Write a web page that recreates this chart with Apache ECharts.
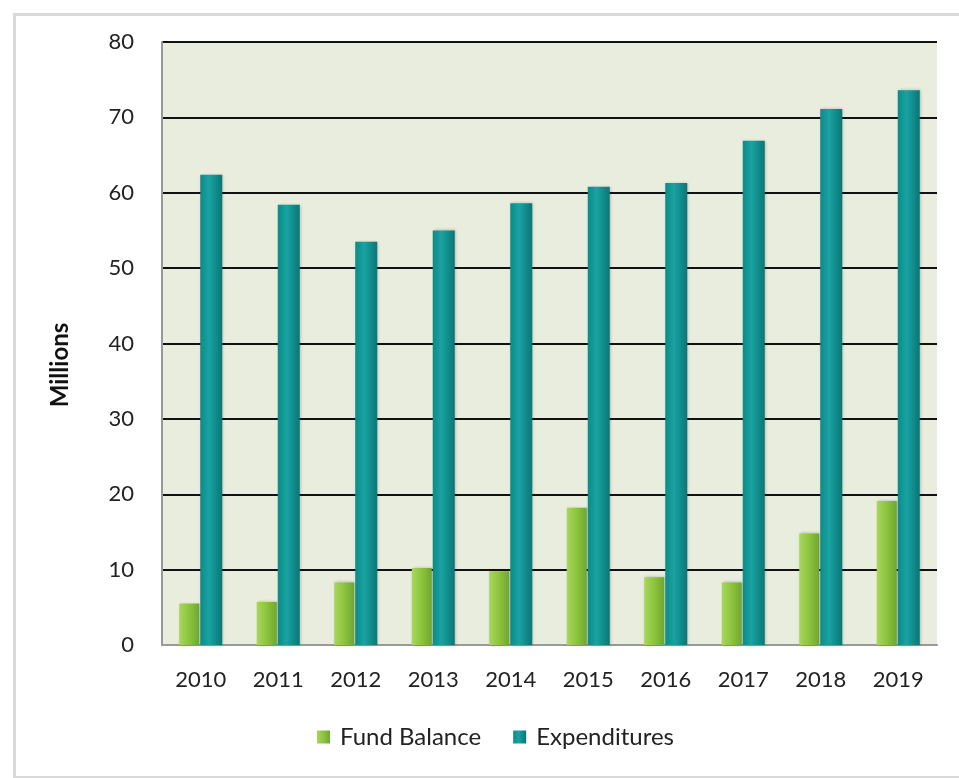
<!DOCTYPE html>
<html>
<head>
<meta charset="utf-8">
<script src="https://cdn.jsdelivr.net/npm/echarts@6/dist/echarts.min.js"></script>
<style>
html,body{margin:0;padding:0;background:#fff;}
#chart{width:959px;height:778px;}
</style>
</head>
<body>
<div id="chart"></div>
<script>
const categories = ['2010','2011','2012','2013','2014','2015','2016','2017','2018','2019'];
const fundBalance = [5.5, 5.7, 8.3, 10.2, 9.8, 18.2, 9.0, 8.3, 14.8, 19.1];
const expenditures = [62.4, 58.4, 53.5, 55.0, 58.6, 60.8, 61.3, 66.9, 71.1, 73.6];
const yTicks = [0, 10, 20, 30, 40, 50, 60, 70, 80];
const yTitle = 'Millions';

const FONT = 'Lato, "Open Sans", sans-serif';
const chart = echarts.init(document.getElementById('chart'));
chart.setOption({
  animation: false,
  backgroundColor: '#ffffff',
  graphic: [{
    type: 'rect', left: 12, top: 12, z: -10,
    shape: { width: 1000, height: 763 },
    style: { fill: 'none', stroke: '#d9d9d9', lineWidth: 3 }
  }, {
    type: 'text', x: 48, y: 365, rotation: Math.PI / 2,
    style: { text: yTitle, font: 'bold 24px Lato, sans-serif', fill: '#111', align: 'center', verticalAlign: 'top' }
  }],
  grid: { left: 162, right: 22, top: 42, bottom: 133, show: true, backgroundColor: '#e9eddd', borderWidth: 0 },
  legend: {
    bottom: 24, left: 312, itemWidth: 13, itemHeight: 13, itemGap: 32,
    icon: 'rect',
    textStyle: { fontFamily: FONT, fontSize: 24, color: '#222', padding: [0, 0, 0, 5] },
    data: ['Fund Balance', 'Expenditures']
  },
  xAxis: {
    type: 'category', data: categories,
    axisLine: { show: true, lineStyle: { color: '#999', width: 2 } },
    axisTick: { show: false },
    axisLabel: { fontFamily: FONT, fontSize: 22, color: '#222', margin: 24 }
  },
  yAxis: {
    type: 'value', min: yTicks[0], max: yTicks[yTicks.length - 1], interval: 10,
    axisLine: { show: true, lineStyle: { color: '#999', width: 2 } },
    axisTick: { show: false },
    axisLabel: { fontFamily: FONT, fontSize: 22, color: '#222', margin: 28 },
    splitLine: { show: true, lineStyle: { color: '#111', width: 2 } }
  },
  series: [
    {
      name: 'Fund Balance', type: 'bar', data: fundBalance, barWidth: 20, barGap: '5%',
      itemStyle: {
        color: new echarts.graphic.LinearGradient(0, 0, 1, 0, [
          { offset: 0, color: '#a8d65c' }, { offset: 0.5, color: '#8cc43e' }, { offset: 1, color: '#6fa630' }
        ]),
        shadowColor: 'rgba(0,0,0,0.25)', shadowBlur: 3, shadowOffsetX: 1
      }
    },
    {
      name: 'Expenditures', type: 'bar', data: expenditures, barWidth: 22,
      itemStyle: {
        color: new echarts.graphic.LinearGradient(0, 0, 1, 0, [
          { offset: 0, color: '#0d8a89' }, { offset: 0.4, color: '#19a3a2' }, { offset: 1, color: '#0a7676' }
        ]),
        shadowColor: 'rgba(0,0,0,0.25)', shadowBlur: 3, shadowOffsetX: 1
      }
    }
  ]
});
</script>
</body>
</html>
